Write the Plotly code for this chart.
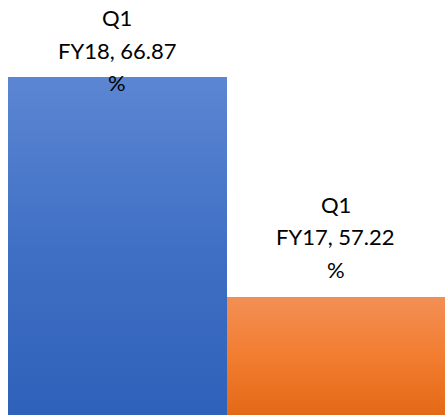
import plotly.graph_objects as go

quarters = ["Q1", "Q1"]
years = ["FY18", "FY17"]
values = [66.87, 57.22]
colors = ["#4472C4", "#ED7D31"]

# visible value window of the axis (axis itself hidden)
y_min, y_max = 52.05, 70.24

cats = [q + " " + y for q, y in zip(quarters, years)]

fig = go.Figure()
fig.add_trace(go.Bar(x=cats, y=[v - y_min for v in values], base=y_min,
                     marker=dict(color=colors, line=dict(width=0)),
                     hoverinfo="skip"))

# label block offsets (px) of the last line relative to the bar top;
# the first label is pushed down because it would hit the top of the chart
shifts = [-6, 28]
step = 32.5
for i in range(len(values)):
    lines = [quarters[i], "%s, %.2f" % (years[i], values[i]), "%"]
    for j, txt in enumerate(lines):
        fig.add_annotation(x=cats[i], y=values[i], text=txt, showarrow=False,
                           yanchor="middle", yshift=shifts[i] + step * (2 - j),
                           font=dict(size=22, color="#000000", family="Lato"))

fig.update_layout(
    width=445, height=415,
    margin=dict(l=8, r=0, t=0, b=0),
    bargap=0,
    showlegend=False,
    plot_bgcolor="white", paper_bgcolor="white",
    xaxis=dict(visible=False),
    yaxis=dict(visible=False, range=[y_min, y_max]),
)

# no page margin + Excel-style vertical gradient on the bars
post = """
document.body.style.margin = '0';
var ns = 'http://www.w3.org/2000/svg';
var holder = document.createElementNS(ns, 'svg');
holder.setAttribute('width', '0'); holder.setAttribute('height', '0');
holder.style.position = 'absolute';
var defs = document.createElementNS(ns, 'defs');
holder.appendChild(defs);
document.body.insertBefore(holder, document.body.firstChild);
[['gBlue', '#5C86D2', '#4070C5', '#2E61B9'],
 ['gOrange', '#F38F55', '#F27D30', '#E36916']].forEach(function(s) {
  var g = document.createElementNS(ns, 'linearGradient');
  g.setAttribute('id', s[0]);
  g.setAttribute('x1', '0'); g.setAttribute('y1', '0');
  g.setAttribute('x2', '0'); g.setAttribute('y2', '1');
  [['0', s[1]], ['0.5', s[2]], ['1', s[3]]].forEach(function(p) {
    var st = document.createElementNS(ns, 'stop');
    st.setAttribute('offset', p[0]);
    st.setAttribute('stop-color', p[1]);
    g.appendChild(st);
  });
  defs.appendChild(g);
});
var css = document.createElement('style');
css.textContent = 'g.trace.bars g.point:nth-child(1) path{fill:url(#gBlue) !important}' +
                  'g.trace.bars g.point:nth-child(2) path{fill:url(#gOrange) !important}';
document.head.appendChild(css);
"""

fig.write_html("out.html", post_script=post, config={"displayModeBar": False})
